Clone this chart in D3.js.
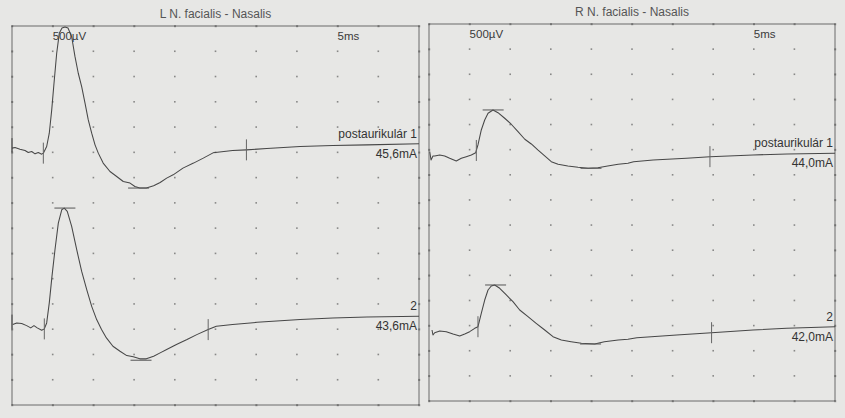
<!DOCTYPE html>
<html>
<head>
<meta charset="utf-8">
<script src="https://cdn.jsdelivr.net/npm/d3@7"></script>
<style>
  body { margin: 0; background: #e7e7e5; }
  svg { display: block; font-family: "Liberation Sans", Arial, sans-serif; }
</style>
</head>
<body>
<svg id="chart" width="845" height="418"></svg>
<script>
// Values: time in ms, amplitude in µV
// (relative to each trace's reference line, 500µV per division)
const titles = ["L N. facialis - Nasalis", "R N. facialis - Nasalis"];
const gainLabel = "500µV";
const sweepLabel = "5ms";
const traceNames = ["postaurikulár 1", "2"];
const leftIntensity = ["45,6mA", "43,6mA"];
const rightIntensity = ["44,0mA", "42,0mA"];

const left1 = [[0,83],[0.37,95],[0.98,63],[1.6,36],[2.0,-4],[2.42,16],[2.83,-30],[3.23,-4],
  [3.65,-36],[3.85,-16],[4.26,115],[4.58,379],[4.88,840],[5.16,1367],[5.49,1960],[5.81,2355],
  [6.14,2460],[6.51,2480],[6.88,2460],[7.33,2288],[7.74,1893],[8.14,1565],[8.56,1300],[8.97,972],
  [9.37,642],[9.79,379],[10.2,148],[10.6,-16],[11.2,-213],[12.04,-379],[12.86,-478],[13.67,-577],
  [14.5,-609],[15.1,-676],[15.7,-707],[16.5,-707],[17.4,-662],[18.2,-597],[19.0,-510],[19.8,-445],
  [21.0,-312],[22.3,-213],[23.5,-115],[24.7,-10],[27.1,36],[28.8,49],[31.3,75],[35.4,115],
  [39.4,134],[43.6,148],[50,168]];
const left2 = [[0.09,91],[0.58,124],[1.19,111],[1.8,71],[2.3,26],[2.7,71],[3.1,26],[3.65,-22],
  [3.97,6],[4.26,124],[4.58,520],[4.91,1045],[5.28,1573],[5.69,2100],[6.11,2363],[6.42,2397],
  [6.79,2330],[7.33,2033],[7.95,1573],[8.56,1144],[9.18,783],[9.79,452],[10.4,190],[11.0,-8],
  [11.6,-172],[12.4,-338],[13.27,-437],[14.1,-522],[14.9,-547],[15.7,-587],[16.5,-587],[17.4,-535],
  [18.2,-468],[19.0,-403],[20.2,-304],[21.5,-205],[22.7,-107],[24.1,-8],[25.1,57],[27.1,91],
  [30.1,136],[35.4,190],[39.4,223],[43.6,243],[50,255]];
const right1 = [[0.09,-40],[0.25,-205],[0.49,-125],[0.7,-125],[1.32,-105],[1.93,-125],[2.55,-171],
  [3.36,-225],[3.98,-171],[4.59,-139],[5.21,-105],[5.75,-60],[6.03,94],[6.44,392],[6.86,591],
  [7.27,724],[7.88,790],[8.5,736],[9.32,625],[10.1,511],[10.96,358],[11.8,207],[12.6,113],
  [13.4,-6],[14.25,-125],[15.06,-239],[15.9,-291],[17.1,-324],[18.35,-350],[19.6,-370],[20.8,-358],
  [22.0,-324],[23.3,-291],[24.5,-271],[25.2,-239],[27.6,-205],[31.7,-171],[34.6,-139],[39.9,-105],
  [44.1,-86],[50,-72]];
const right2 = [[0.37,-88],[0.49,-187],[0.7,-141],[1.32,-107],[2.13,-121],[2.96,-167],[3.78,-207],
  [4.4,-167],[5.01,-121],[5.63,-54],[6.03,-22],[6.44,245],[6.86,509],[7.27,708],[7.67,788],
  [8.09,808],[8.71,742],[9.52,609],[10.34,476],[11.17,310],[12.19,177],[13.2,46],[14.25,-88],
  [15.27,-220],[16.3,-286],[17.5,-320],[18.76,-352],[20.4,-366],[21.6,-320],[23.3,-286],[24.5,-273],
  [25.6,-241],[30.5,-187],[34.8,-141],[39.9,-88],[44.05,-54],[50,-22]];

// latency cursors (ms) and amplitude cursors [ms, µV]
const left1Cursors = [3.85, 28.8];
const left2Cursors = [3.97, 24.1];
const right1Cursors = [5.83, 34.6];
const right2Cursors = [6.03, 34.8];
const left1Levels = [[15.55, -707]];
const left2Levels = [[6.5, 2397], [15.85, -614]];
const right1Levels = [[7.9, 790], [19.95, -370]];
const right2Levels = [[8.2, 808], [19.9, -366]];

// each trace sits on a reference line, in µV below the top edge
const traceOffsets = [-2500, -6000];

const panels = [
  { title: titles[0], box: [12, 26, 419, 405], startTick: true,
    traces: [left1, left2], cursors: [left1Cursors, left2Cursors],
    levels: [left1Levels, left2Levels], intensity: leftIntensity },
  { title: titles[1], box: [429, 24, 835, 401], startTick: false,
    traces: [right1, right2], cursors: [right1Cursors, right2Cursors],
    levels: [right1Levels, right2Levels], intensity: rightIntensity }
];

const svg = d3.select("#chart");
const ink = "#474747";

panels.forEach(p => {
  const [x0, y0, x1, y1] = p.box;
  const xScale = d3.scaleLinear().domain([0, 50]).range([x0, x1]);
  const yScale = d3.scaleLinear().domain([0, -7500]).range([y0, y1]);
  const g = svg.append("g");

  // frame
  g.append("rect")
    .attr("x", x0).attr("y", y0)
    .attr("width", x1 - x0).attr("height", y1 - y0)
    .attr("fill", "none").attr("stroke", "#6a6a6a").attr("stroke-width", 1);

  // dotted grid: 10 x 5ms, 15 x 500µV
  const cols = d3.range(0, 55, 5);
  const rows = d3.range(0, -8000, -500);
  cols.forEach(t => {
    rows.forEach(v => {
      const onEdge = t === 0 || t === 50 || v === 0 || v === -7500;
      g.append("rect")
        .attr("x", xScale(t) - 0.8).attr("y", yScale(v) - 0.8)
        .attr("width", onEdge ? 2 : 1.6).attr("height", onEdge ? 2 : 1.6)
        .attr("fill", "#555").attr("opacity", 0.65);
    });
  });

  // title and calibration text
  g.append("text")
    .attr("x", (x0 + x1) / 2).attr("y", y0 - 8)
    .attr("text-anchor", "middle")
    .attr("font-size", 12).attr("fill", "#555")
    .text(p.title);
  g.append("text")
    .attr("x", xScale(5)).attr("y", y0 + 14)
    .attr("font-size", 11.5).attr("fill", "#3a3a3a")
    .text(gainLabel);
  g.append("text")
    .attr("x", xScale(40)).attr("y", y0 + 14)
    .attr("font-size", 11.5).attr("fill", "#3a3a3a")
    .text(sweepLabel);

  const line = d3.line()
    .x(d => xScale(d[0]))
    .y(d => yScale(d[1]));

  p.traces.forEach((data, i) => {
    const off = traceOffsets[i];
    const shifted = data.map(d => [d[0], d[1] + off]);

    g.append("path")
      .datum(shifted)
      .attr("fill", "none")
      .attr("stroke", ink)
      .attr("stroke-width", 1.05)
      .attr("stroke-linejoin", "round")
      .attr("d", line);

    // value of the trace at a given time
    const bis = d3.bisector(d => d[0]).left;
    const valueAt = t => {
      const k = Math.max(1, Math.min(shifted.length - 1, bis(shifted, t)));
      const a = shifted[k - 1], b = shifted[k];
      return a[1] + (b[1] - a[1]) * (t - a[0]) / (b[0] - a[0]);
    };

    if (p.startTick) {
      const ys = yScale(shifted[0][1]);
      g.append("line")
        .attr("x1", xScale(0)).attr("x2", xScale(0))
        .attr("y1", ys - 10).attr("y2", ys + 4)
        .attr("stroke", ink).attr("stroke-width", 1);
    }

    p.cursors[i].forEach(t => {
      const yc = yScale(valueAt(t));
      g.append("line")
        .attr("x1", xScale(t)).attr("x2", xScale(t))
        .attr("y1", yc - 10.5).attr("y2", yc + 10.5)
        .attr("stroke", "#666").attr("stroke-width", 1);
    });

    p.levels[i].forEach(d => {
      const yl = yScale(d[1] + off);
      g.append("line")
        .attr("x1", xScale(d[0]) - 10.5).attr("x2", xScale(d[0]) + 10.5)
        .attr("y1", yl).attr("y2", yl)
        .attr("stroke", "#555").attr("stroke-width", 1);
    });

    const yEnd = yScale(shifted[shifted.length - 1][1]);
    g.append("text")
      .attr("x", x1 - 2).attr("y", yEnd - 6)
      .attr("text-anchor", "end")
      .attr("font-size", 12).attr("fill", "#333")
      .text(traceNames[i]);
    g.append("text")
      .attr("x", x1 - 2).attr("y", yEnd + 14)
      .attr("text-anchor", "end")
      .attr("font-size", 12).attr("fill", "#333")
      .text(p.intensity[i]);
  });
});
</script>
</body>
</html>
